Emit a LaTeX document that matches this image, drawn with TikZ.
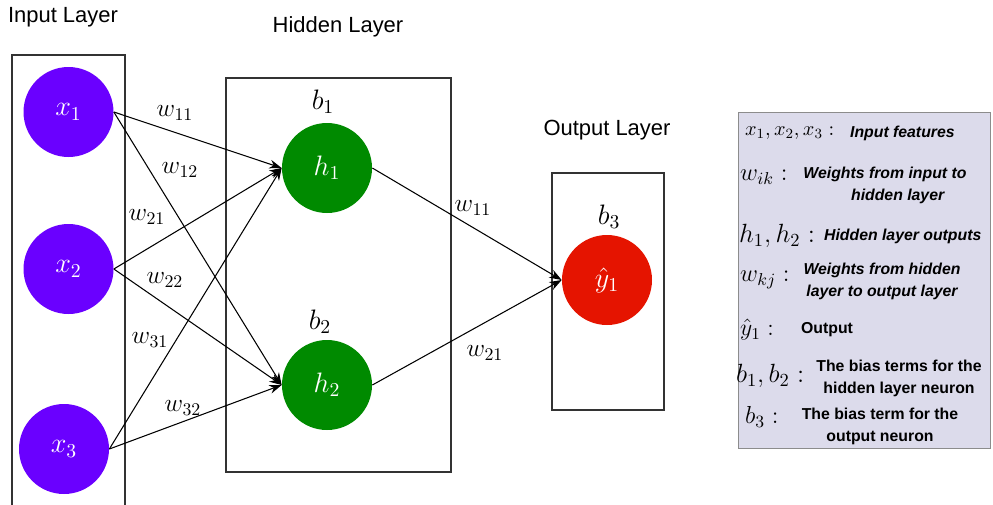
\RequirePackage{fix-cm}
\documentclass[tikz,border=0pt]{standalone}
\usepackage{fontspec}
\newfontfamily\arial{Liberation Sans}
\usetikzlibrary{arrows.meta}
\definecolor{inpurple}{HTML}{6A00FF}
\definecolor{hidgreen}{HTML}{008A00}
\definecolor{outred}{HTML}{E51400}
\definecolor{legendbg}{HTML}{DCDBEB}
\begin{document}
\begin{tikzpicture}[x=0.02cm,y=-0.02cm,
  layerbox/.style={draw=black!80,line width=0.6pt},
  neuron/.style={circle,minimum size=90*0.02cm,inner sep=0pt,text=white,font=\fontsize{16}{18}\selectfont},
  title/.style={font=\arial\fontsize{12.5}{15}\selectfont},
  wlabel/.style={font=\fontsize{14.5}{16}\selectfont},
  blabel/.style={font=\fontsize{16}{18}\selectfont},
  conn/.style={line width=0.6pt,-{Stealth[length=7pt,width=5pt]}},
  legmath/.style={anchor=west,inner sep=1pt,font=\fontsize{12.5}{14}\selectfont},
  legtxt/.style={align=center,inner sep=1pt,font=\arial\bfseries\itshape\fontsize{9}{12.5}\selectfont},
  legtxtu/.style={align=center,inner sep=1pt,font=\arial\bfseries\fontsize{9}{12.5}\selectfont}]
\useasboundingbox (0,0) rectangle (993,504);

% layer boxes
\draw[layerbox] (12,506) -- (12,55) -- (125,55) -- (125,506);
\draw[layerbox] (226,78) rectangle (451,472);
\draw[layerbox] (552,173) rectangle (664,410);

% titles
\node[title] (tin) at (63,17) {Input Layer};
\node[title] (thid) at (338,27) {Hidden Layer};
\node[title] (tout) at (607,130) {Output Layer};

% neurons
\node[neuron,fill=inpurple] (x1) at (68.5,112) {$x_1$};
\node[neuron,fill=inpurple] (x2) at (68.5,269) {$x_2$};
\node[neuron,fill=inpurple] (x3) at (64,449) {$x_3$};
\node[neuron,fill=hidgreen] (h1) at (327,168) {$h_1$};
\node[neuron,fill=hidgreen] (h2) at (327,385) {$h_2$};
\node[neuron,fill=outred] (y1) at (607,280) {$\hat{y}_1$};

% biases
\node[blabel] (b1) at (323,102) {$b_1$};
\node[blabel] (b2) at (320,322) {$b_2$};
\node[blabel] (b3) at (609,217) {$b_3$};

% connections
\draw[conn] (x1.east) -- (h1.west);
\draw[conn] (x1.east) -- (h2.west);
\draw[conn] (x2.east) -- (h1.west);
\draw[conn] (x2.east) -- (h2.west);
\draw[conn] (x3.east) -- (h1.west);
\draw[conn] (x3.east) -- (h2.west);
\draw[conn] (h1.east) -- (y1.west);
\draw[conn] (h2.east) -- (y1.west);

% weight labels
\node[wlabel] (lw11) at (175,113) {$w_{11}$};
\node[wlabel] (lw12) at (180,170) {$w_{12}$};
\node[wlabel] (lw21) at (147,217) {$w_{21}$};
\node[wlabel] (lw22) at (165,280) {$w_{22}$};
\node[wlabel] (lw31) at (150,340) {$w_{31}$};
\node[wlabel] (lw32) at (183,408) {$w_{32}$};
\node[wlabel] (lo11) at (473,208) {$w_{11}$};
\node[wlabel] (lo21) at (485,353) {$w_{21}$};

% legend
\node[draw=black!45,line width=0.8pt,fill=legendbg,minimum width=252*0.02cm,minimum height=336*0.02cm,anchor=north west,inner sep=0pt] (leg) at (738,112) {};
\node[legmath,font=\fontsize{11.5}{14}\selectfont] (m1) at (743,133) {$x_1,x_2,x_3:$};
\node[legtxt,anchor=west] (t1) at (848,133) {Input features};
\node[legmath,font=\fontsize{14}{15}\selectfont] (m2) at (738,177) {$w_{ik}:$};
\node[legtxt] (t2) at (885,185) {Weights from input to\\ \hspace*{1.6em}hidden layer};
\node[legmath,font=\fontsize{15}{16}\selectfont] (m3) at (737,236) {$h_1,h_2:$};
\node[legtxt,anchor=west] (t3) at (822,236) {Hidden layer outputs};
\node[legmath,font=\fontsize{14}{15}\selectfont] (m4) at (738,280) {$w_{kj}:$};
\node[legtxt] (t4) at (882,281) {Weights from hidden\\layer to output layer};
\node[legmath,font=\fontsize{13.5}{15}\selectfont] (m5) at (738,330) {$\hat{y}_1:$};
\node[legtxtu,anchor=west] (t5) at (799,330) {Output};
\node[legmath,font=\fontsize{15}{16}\selectfont] (m6) at (734,376) {$b_1,b_2:$};
\node[legtxtu] (t6) at (899,378) {The bias terms for the\\hidden layer neuron};
\node[legmath,font=\fontsize{14}{15}\selectfont] (m7) at (743,417) {$b_3:$};
\node[legtxtu] (t7) at (880,426) {The bias term for the\\output neuron};
\end{tikzpicture}
\end{document}
